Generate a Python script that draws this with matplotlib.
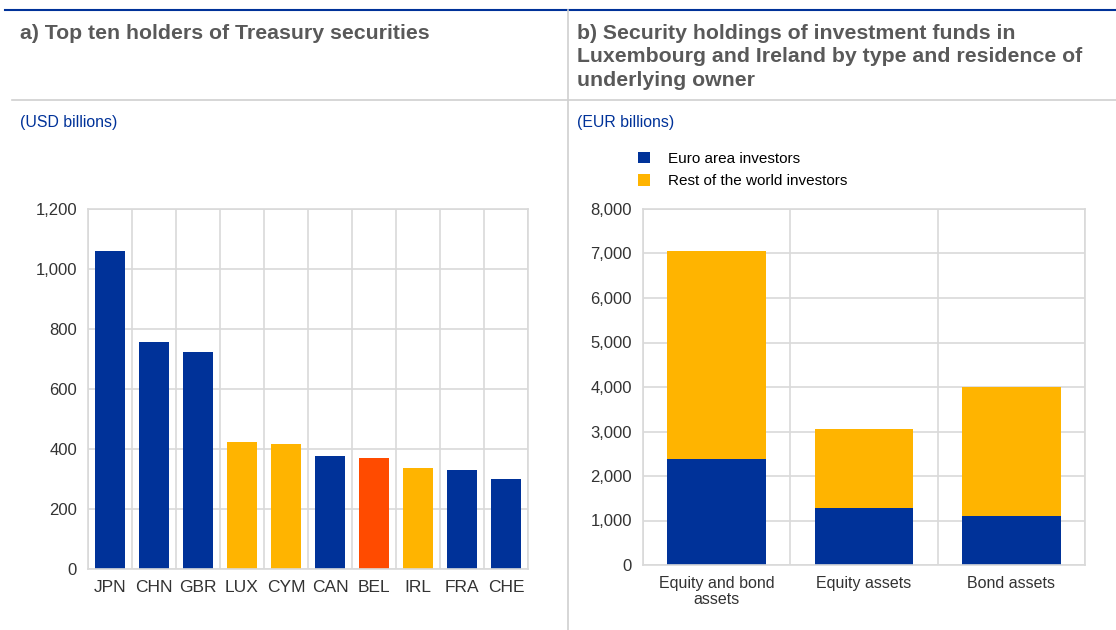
import numpy as np
import matplotlib
matplotlib.use("Agg")
from matplotlib import pyplot as plt
from matplotlib.lines import Line2D

plt.rcParams['font.family'] = ['Liberation Sans', 'DejaVu Sans']

# panel a data
countries = ["JPN", "CHN", "GBR", "LUX", "CYM", "CAN", "BEL", "IRL", "FRA", "CHE"]
holdings = [1060, 756, 722, 422, 418, 376, 371, 337, 329, 299]
country_colors = ["blue", "blue", "blue", "yellow", "yellow", "blue", "orange", "yellow", "blue", "blue"]

# panel b data
fund_types = ["Equity and bond\nassets", "Equity assets", "Bond assets"]
euro_area = [2375, 1274, 1101]
rest_of_world = [4681, 1782, 2899]

BLUE = "#003299"
YELLOW = "#FFB400"
ORANGE = "#FF4B00"
GRID = "#d9d9d9"
TITLE = "#595959"
palette = {"blue": BLUE, "yellow": YELLOW, "orange": ORANGE}

fig = plt.figure(figsize=(11.16, 6.3), dpi=100)
W, H = 1116.0, 630.0

def fx(px):
    return px / W

def fy(py):
    return 1 - py / H

# frame lines
fig.add_artist(Line2D([fx(5), 1], [fy(10), fy(10)], color=BLUE, lw=1.5))
fig.add_artist(Line2D([fx(12), 1], [fy(100), fy(100)], color="#d0d0d0", lw=1.2))
fig.add_artist(Line2D([fx(568), fx(568)], [fy(10), 0], color="#d0d0d0", lw=1.2))

fig.text(fx(20), fy(24), "a) Top ten holders of Treasury securities", fontsize=15.3,
         fontweight="bold", color=TITLE, va="top", ha="left")
fig.text(fx(577), fy(24), "b) Security holdings of investment funds in\nLuxembourg and Ireland by type and residence of\nunderlying owner",
         fontsize=15.3, fontweight="bold", color=TITLE, va="top", ha="left", linespacing=1.3)
fig.text(fx(20), fy(123), "(USD billions)", fontsize=11.4, color=BLUE, va="center", ha="left")
fig.text(fx(577), fy(123), "(EUR billions)", fontsize=11.4, color=BLUE, va="center", ha="left")


def style_axes(ax, n, size):
    ax.set_xlim(-0.5, n - 0.5)
    ax.set_xticks(np.arange(n))
    ax.set_xticks(np.arange(n + 1) - 0.5, minor=True)
    ax.grid(True, axis="y", color=GRID, lw=1.2)
    ax.grid(True, axis="x", which="minor", color=GRID, lw=1.2)
    ax.set_axisbelow(True)
    for s in ax.spines.values():
        s.set_color(GRID)
        s.set_linewidth(1.2)
    ax.tick_params(which="both", length=0, labelsize=size, colors="#333333", pad=8)


# panel a
ax1 = fig.add_axes([fx(88), fy(569), fx(528) - fx(88), fy(209) - fy(569)])
x = np.arange(len(countries))
ax1.bar(x, holdings, width=0.68, color=[palette[c] for c in country_colors])
style_axes(ax1, len(countries), 12)
ax1.set_ylim(0, 1200)
ax1.set_yticks(np.arange(0, 1201, 200))
ax1.set_yticklabels(["{:,}".format(v) for v in range(0, 1201, 200)])
ax1.set_xticklabels(countries, fontsize=12.5)

# panel b
ax2 = fig.add_axes([fx(643), fy(565), fx(1085) - fx(643), fy(209) - fy(565)])
x2 = np.arange(len(fund_types))
ax2.bar(x2, euro_area, width=0.67, color=BLUE, label="Euro area investors")
ax2.bar(x2, rest_of_world, width=0.67, bottom=euro_area, color=YELLOW,
        label="Rest of the world investors")
style_axes(ax2, len(fund_types), 12)
ax2.set_ylim(0, 8000)
ax2.set_yticks(np.arange(0, 8001, 1000))
ax2.set_yticklabels(["{:,}".format(v) for v in range(0, 8001, 1000)])
ax2.set_xticklabels(fund_types, linespacing=1.1, fontsize=11.5)

ax2.legend(loc="upper left", bbox_to_anchor=(fx(630), fy(144)), bbox_transform=fig.transFigure,
           frameon=False, fontsize=11, handlelength=0.8, handleheight=0.8,
           handletextpad=1.2, labelspacing=0.55, borderpad=0)

fig.savefig("out.png", dpi=100)
